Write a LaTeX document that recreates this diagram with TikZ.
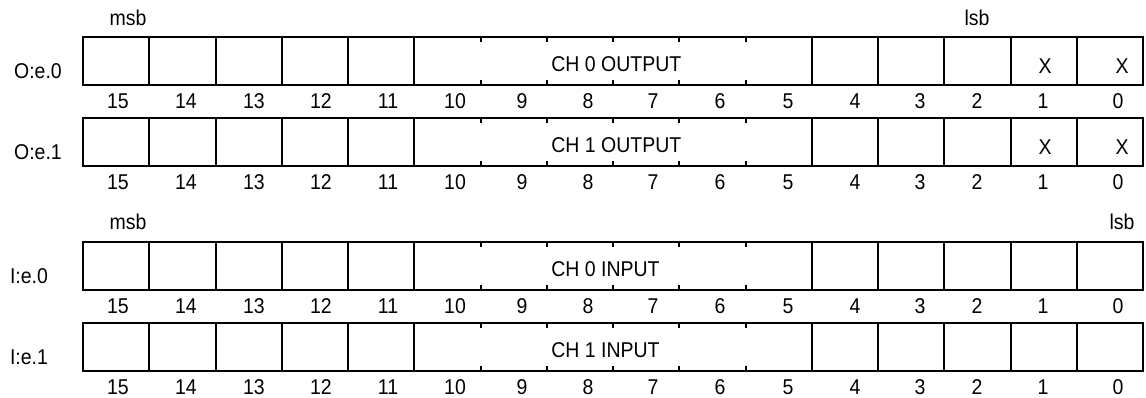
\documentclass[tikz,border=0pt]{standalone}
\usepackage{fontspec}
\setmainfont[FakeStretch=0.91]{Liberation Sans}
\usetikzlibrary{positioning, calc}

\tikzset{
  regcell/.style={draw, line width=1pt},
  bittick/.style={draw, line width=1pt},
}

\begin{document}
\begin{tikzpicture}[x=0.5pt, y=-0.5pt, every node/.style={font=\fontsize{10.7}{12.8}\selectfont, inner sep=0pt}]
                    \useasboundingbox (0,0) rectangle (1146,397);
                    % four register words
                    \foreach \r/\ytop/\lx/\lab/\txt in {oe0/37/38/O:e.0/CH 0 OUTPUT, oe1/118/38/O:e.1/CH 1 OUTPUT, ie0/242/29/I:e.0/CH 0 INPUT, ie1/323/29/I:e.1/CH 1 INPUT} {
                        \node (\r) at (\lx,\ytop+34) {\lab};
                        \foreach \i in {0,1,2,3,4,11,12,13,14,15}
                            \draw[regcell] ({83+66.25*\i},\ytop) rectangle ++(66.25,48);
                        \draw[regcell] ({83+66.25*5},\ytop) rectangle ++({6*66.25},48);
                        \node[anchor=west] (\r-f) at (551,\ytop+27) {\txt};
                        \foreach \i in {6,...,10} {
                            \draw[bittick] ({83+66.25*\i},\ytop) -- ++(0,5);
                            \draw[bittick] ({83+66.25*\i},\ytop+48) -- ++(0,-5);
                        }
                        \foreach \b/\nx in {15/118, 14/186, 13/254, 12/321, 11/388, 10/455, 9/522, 8/588, 7/653, 6/720, 5/788, 4/855, 3/920, 2/977, 1/1043, 0/1118}
                            \node (\r-\b) at (\nx,\ytop+64) {\b};
                    }
                    \node (oe0-x1) at (1045,66) {X};
                    \node (oe0-x0) at (1122,66) {X};
                    \node (oe1-x1) at (1045,147) {X};
                    \node (oe1-x0) at (1122,147) {X};

                    \node (msb-o) at (128,18) {msb};
                    \node (lsb-o) at (977,18) {lsb};
                    \node (msb-i) at (128,222) {msb};
                    \node (lsb-i) at (1122,222) {lsb};
                \end{tikzpicture}
\end{document}
